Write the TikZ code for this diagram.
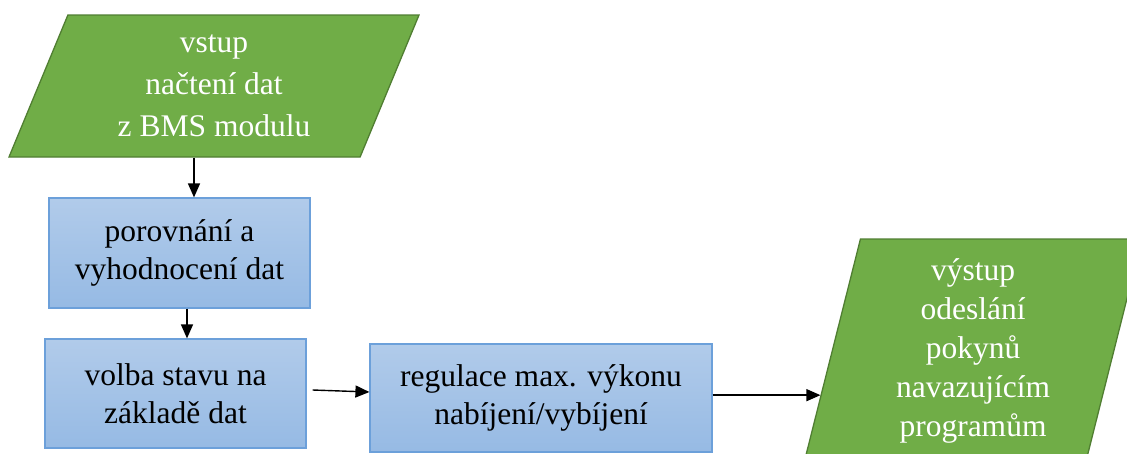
\documentclass[tikz,border=0pt]{standalone}
\usepackage{fontspec}
\setmainfont{Liberation Serif}
\usetikzlibrary{shapes.geometric,arrows.meta,calc}
\definecolor{gfill}{RGB}{112,173,71}
\definecolor{gline}{RGB}{80,126,50}
\definecolor{btop}{RGB}{177,203,234}
\definecolor{bbot}{RGB}{150,186,228}
\definecolor{bline}{RGB}{108,160,218}
\begin{document}
\begin{tikzpicture}[x=1pt,y=-1pt,
  io/.style={trapezium, trapezium stretches body, fill=gfill, draw=gline, line width=1.3pt, text=white, align=center, inner sep=0pt},
  proc/.style={rectangle, top color=btop, bottom color=bbot, draw=bline, line width=1.2pt, align=center, inner sep=0pt, font=\fontsize{31.5}{37.5}\selectfont},
  arr/.style={-{Triangle[length=14pt,width=12pt]}, line width=1.4pt}]
\useasboundingbox (0,0) rectangle (1127,453);
\begin{scope}
\clip (0,0) rectangle (1127,453);
\node[io, trapezium left angle=60, trapezium right angle=120, minimum width=410pt, minimum height=142pt, font=\fontsize{31.5}{42}\selectfont] (in) at (214,86) {vstup\\načtení dat\\z BMS modulu};
\node[proc, minimum width=261pt, minimum height=110pt] (b1) at (179.5,253) {porovnání a\\vyhodnocení dat};
\node[proc, minimum width=261pt, minimum height=109pt] (b2) at (175.5,393.5) {volba stavu na\\základě dat};
\node[proc, minimum width=342pt, minimum height=108pt] (b3) at (541,398) {regulace max. výkonu\\nabíjení/vybíjení};
\node[io, trapezium left angle=73, trapezium right angle=107, minimum width=338pt, minimum height=224pt, font=\fontsize{31.5}{39}\selectfont] (out) at (973,351) {výstup\\odeslání\\pokynů\\navazujícím\\programům};
\coordinate (outin) at ($(out.top left corner)!0.696!(out.bottom left corner)$);
\draw[arr] (in.south -| 194,0) -- (b1.north -| 194,0);
\draw[arr] (b1.south -| 187,0) -- (b2.north -| 187,0);
\draw[arr] ([xshift=6pt,yshift=3.5pt]b2.east) -- ([yshift=6pt]b3.west);
\draw[arr] (b3.east |- outin) -- (outin);
\end{scope}
\end{tikzpicture}
\end{document}
